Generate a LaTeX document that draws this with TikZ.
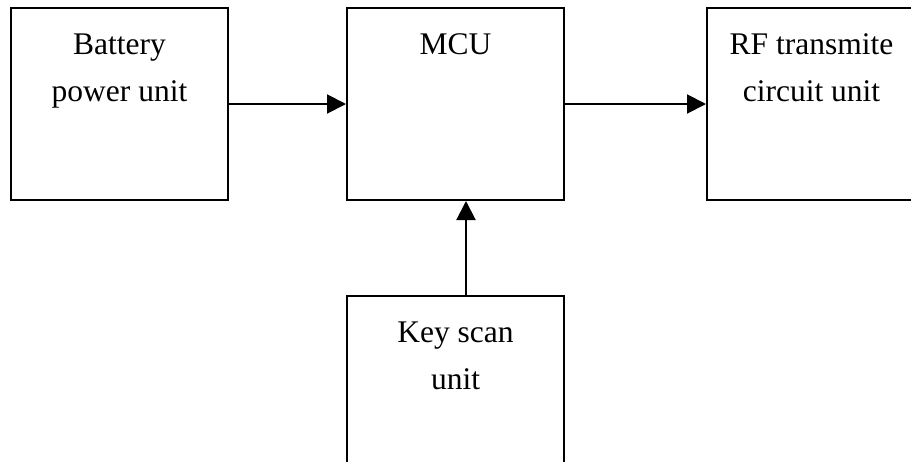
\documentclass[tikz,border=0pt]{standalone}
\usepackage{fontspec}
\setmainfont{Liberation Serif}
\usetikzlibrary{arrows.meta}
\begin{document}
\begin{tikzpicture}[x=1pt,y=1pt,
  unitbox/.style={draw=black,line width=2pt,rectangle,minimum width=217pt,minimum height=192pt,inner sep=0pt,anchor=north west},
  boxtext/.style={anchor=base,align=center,inner sep=0pt,font=\fontsize{31.5}{47}\selectfont},
  conn/.style={line width=2pt,-{Triangle[length=19pt,width=19pt]}}]
\useasboundingbox (0,0) rectangle (911,-461);
\clip (0,0) rectangle (911,-461);
\fill[white] (0,0) rectangle (911,-461);
\node[unitbox] (bat) at (10,-7) {};
\node[unitbox] (mcu) at (346,-7) {};
\node[unitbox] (rf) at (706,-7) {};
\node[unitbox] (key) at (346,-295) {};
\node[boxtext] (batt) at ([yshift=-94pt]bat.north) {Battery\\power unit};
\node[boxtext] (mcut) at ([yshift=-47pt]mcu.north) {MCU};
\node[boxtext] (rft) at ([yshift=-94pt,xshift=-4pt]rf.north) {RF transmite\\circuit unit};
\node[boxtext] (keyt) at ([yshift=-94pt]key.north) {Key scan\\unit};
\coordinate (kx) at (466,0);
\draw[conn] (bat.east) -- (mcu.west);
\draw[conn] (mcu.east) -- (rf.west);
\draw[conn] (key.north -| kx) -- (mcu.south -| kx);
\end{tikzpicture}
\end{document}
